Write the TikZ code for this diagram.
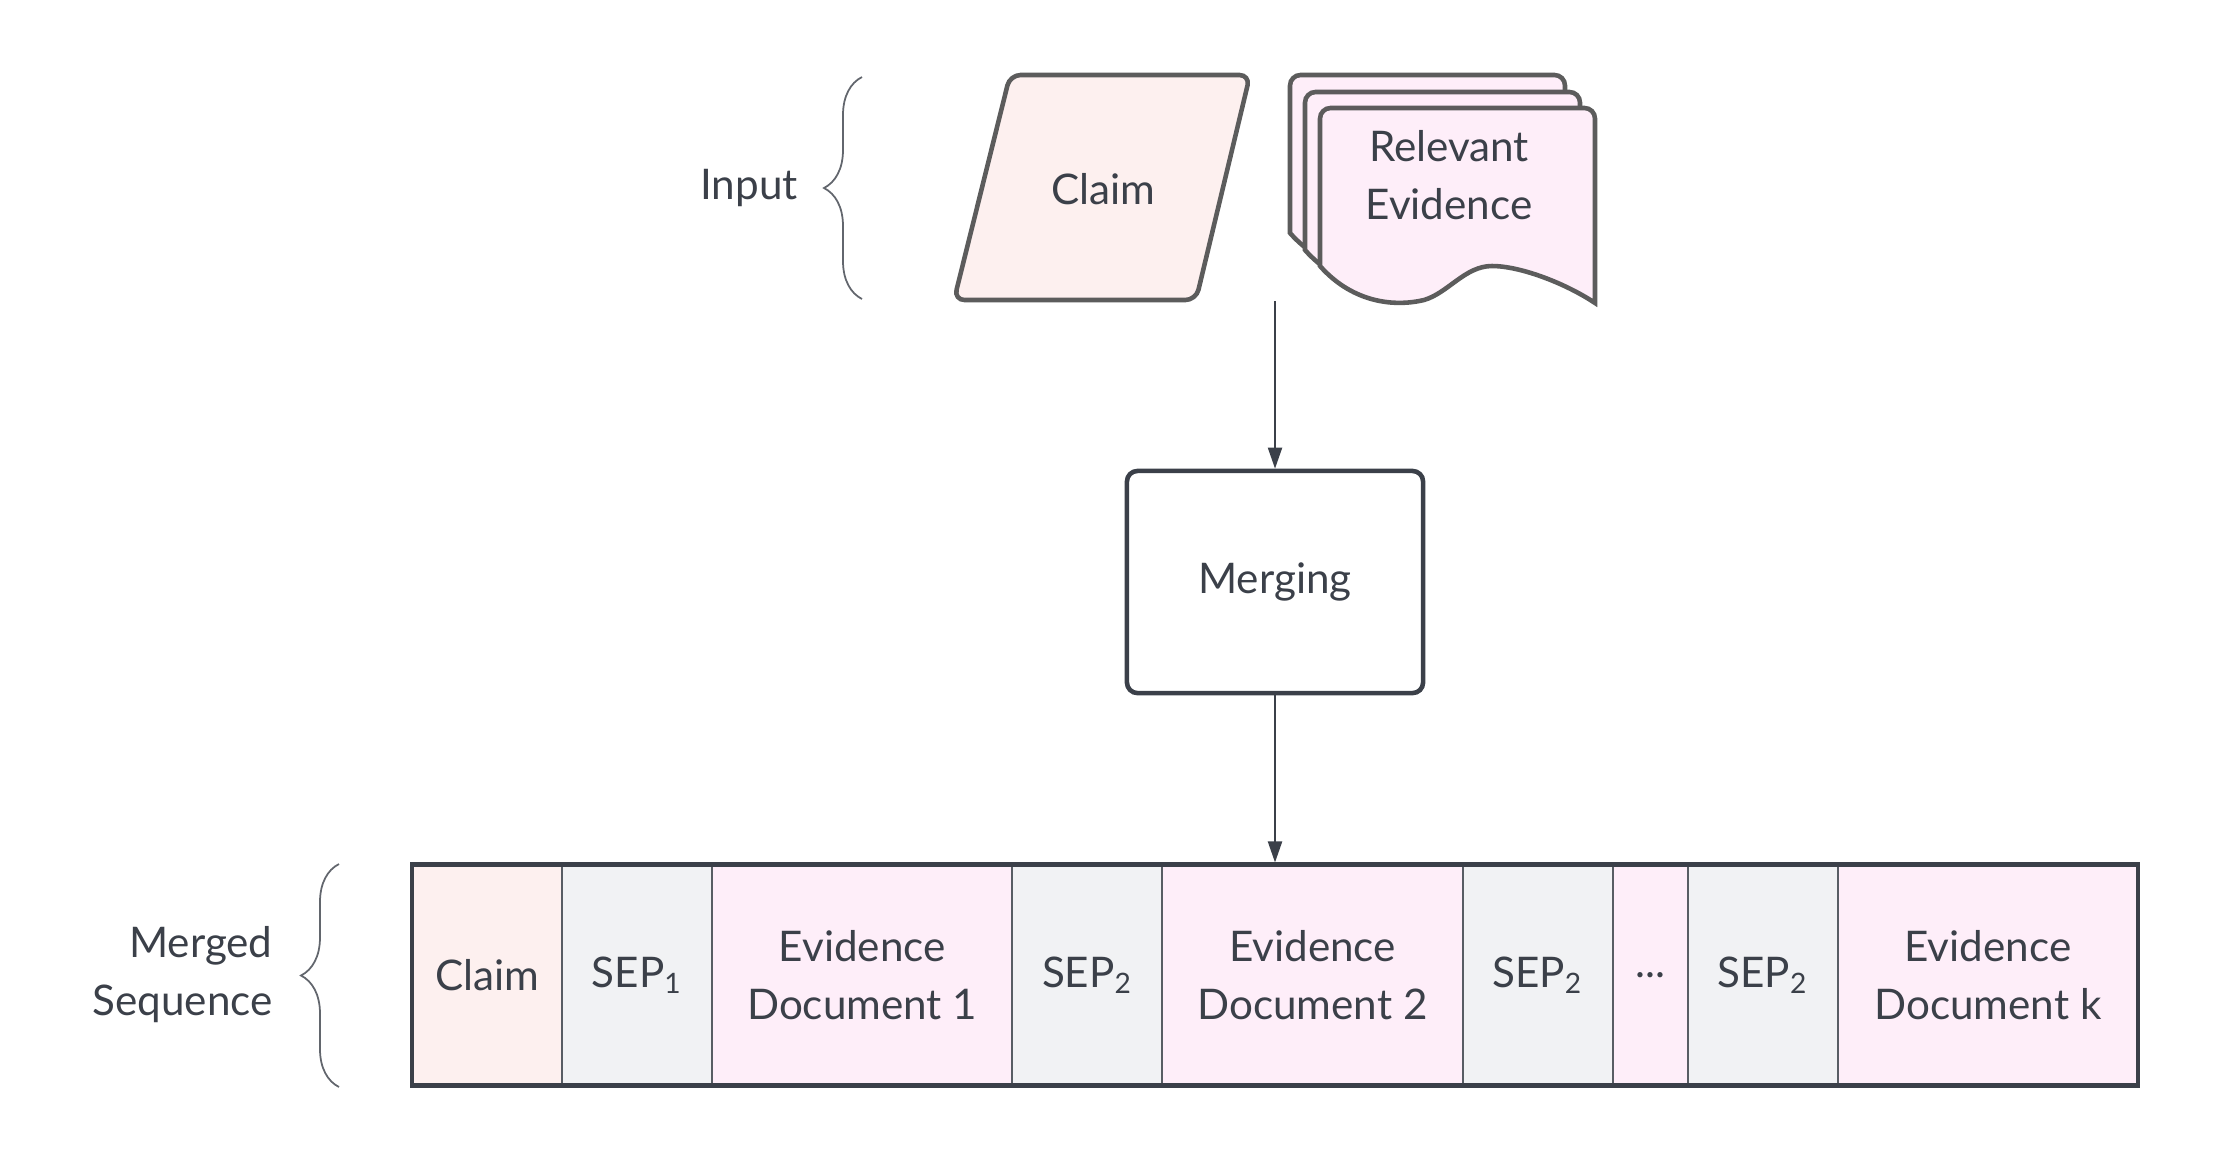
\documentclass[tikz,border=0pt]{standalone}
\usepackage{fontspec}
\setmainfont{Lato}
\usepackage{tikz}
\usetikzlibrary{positioning,arrows.meta,decorations.pathreplacing,calc}
\definecolor{inkdark}{RGB}{59,64,73}
\definecolor{shapegray}{RGB}{92,92,92}
\definecolor{claimpink}{RGB}{253,240,239}
\definecolor{evidencepink}{RGB}{254,238,249}
\definecolor{sepgray}{RGB}{241,242,244}

\begin{document}
\begin{tikzpicture}[
        x=0.01cm, y=-0.01cm,
        node distance=0pt,
        font=\fontsize{12}{16.5}\selectfont, text=inkdark,
        cell/.style={rectangle, draw=inkdark!85, line width=0.6pt, fill=#1, align=center, inner sep=0pt, outer sep=0pt, minimum height=2.2cm, minimum width=1.5cm},
        wide/.style={minimum width=3cm},
        shapeline/.style={draw=shapegray, line width=1.3pt},
        flow/.style={-{Triangle[length=6pt,width=4pt]}, draw=inkdark, line width=0.6pt},
        curly/.style={decorate, decoration={brace, amplitude=0.38cm}, draw=inkdark!80, line width=0.5pt}
    ]
    \useasboundingbox (0,0) rectangle (2213,1163);

    % input
    \node (inputlbl) at (749,188) {Input};
    \draw[curly] (862,299) -- (862,77);

    \draw[shapeline, rounded corners=3pt, fill=claimpink] (1010,75) -- (1250,75) -- (1196,300) -- (954,300) -- cycle;
    \node (claim) at (1103,189) {Claim};

    \foreach \dx/\dy in {1290/75, 1305/92, 1320/108}
        \draw[shapeline, fill=evidencepink]
            (\dx,\dy+158) [rounded corners=3pt] -- (\dx,\dy) -- (\dx+275,\dy) -- (\dx+275,\dy+100)
            [sharp corners] -- (\dx+275,\dy+195)
            .. controls (\dx+245,\dy+175) and (\dx+200,\dy+158) .. (\dx+172,\dy+158)
            .. controls (\dx+145,\dy+158) and (\dx+128,\dy+185) .. (\dx+104,\dy+192)
            .. controls (\dx+70,\dy+200) and (\dx+30,\dy+192) .. (\dx,\dy+158) -- cycle;
    \node[align=center] (evidence) at (1449,175) {Relevant\\Evidence};

    % merging
    \coordinate (inp) at (1275,301);
    \node[rectangle, draw=inkdark, line width=1.3pt, rounded corners=3pt, minimum width=2.96cm, minimum height=2.22cm] (merge) at (1275,582) {Merging};
    \draw[flow] (inp) -- (merge.north);

    % merged sequence
    \node[cell=claimpink] (sclaim) at (487,975) {Claim};
    \node[cell=sepgray, right=of sclaim] (sep1) {SEP\textsubscript{1}};
    \node[cell=evidencepink, wide, right=of sep1] (ev1) {Evidence\\Document 1};
    \node[cell=sepgray, right=of ev1] (sep2) {SEP\textsubscript{2}};
    \node[cell=evidencepink, wide, right=of sep2] (ev2) {Evidence\\Document 2};
    \node[cell=sepgray, right=of ev2] (sep3) {SEP\textsubscript{2}};
    \node[cell=evidencepink, minimum width=0.75cm, right=of sep3] (dots) {...};
    \node[cell=sepgray, right=of dots] (sep4) {SEP\textsubscript{2}};
    \node[cell=evidencepink, wide, right=of sep4] (evk) {Evidence\\Document k};
    \draw[inkdark, line width=1.4pt] (sclaim.north west) rectangle (evk.south east);

    \draw[flow, shorten >=0.7pt] (merge.south) -- (merge.south |- ev2.north);

    \node[align=right, anchor=east] (mergedlbl) at (285,975) {Merged\\Sequence};
    \draw[curly] (339,1087) -- (339,864);
\end{tikzpicture}
\end{document}
